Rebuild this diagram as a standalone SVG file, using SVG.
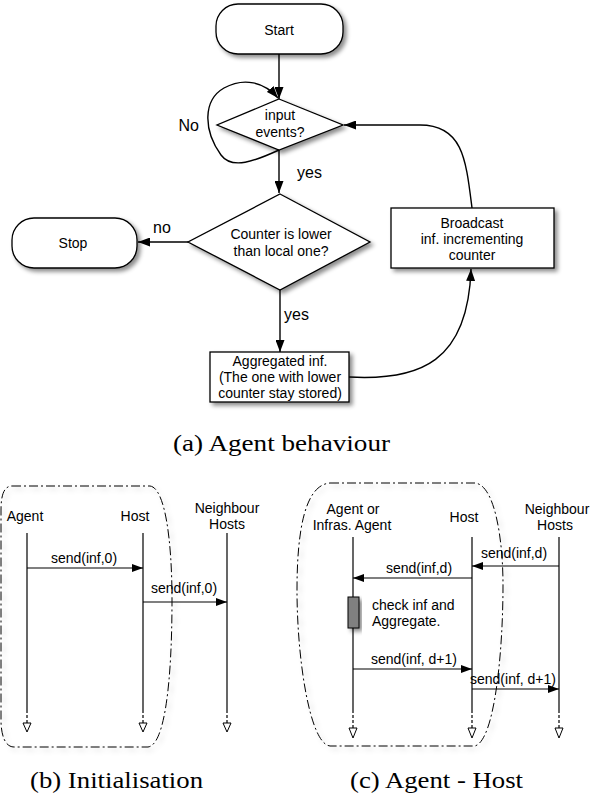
<svg xmlns="http://www.w3.org/2000/svg" width="590" height="802" viewBox="0 0 590 802">
  <defs>
    <filter id="shadow" x="-20%" y="-20%" width="140%" height="150%">
      <feDropShadow dx="3" dy="3" stdDeviation="2.2" flood-color="#000" flood-opacity="0.45"/>
    </filter>
    <filter id="softShadow" x="-10%" y="-10%" width="125%" height="125%">
      <feDropShadow dx="3" dy="3" stdDeviation="2.5" flood-color="#000" flood-opacity="0.22"/>
    </filter>
    <marker id="arrow" viewBox="0 0 12 9" refX="12" refY="4.5" markerWidth="12" markerHeight="9" markerUnits="userSpaceOnUse" orient="auto">
      <path d="M0,0 L12,4.5 L0,9 z" fill="#000"/>
    </marker>
    <marker id="msgArrow" viewBox="0 0 11 8" refX="11" refY="4" markerWidth="11" markerHeight="8" markerUnits="userSpaceOnUse" orient="auto">
      <path d="M0,0 L11,4 L0,8 z" fill="#000"/>
    </marker>
  </defs>
  <style>
    .shape { fill: #fff; stroke: #000; stroke-width: 1.3; }
    .edge { fill: none; stroke: #000; stroke-width: 1.4; }
    .txt { font-family: "Liberation Sans", Arial, sans-serif; font-size: 14px; fill: #000; text-anchor: middle; }
    .note { font-family: "Liberation Sans", Arial, sans-serif; font-size: 14px; fill: #000; text-anchor: start; }
    .lbl { font-family: "Liberation Sans", Arial, sans-serif; font-size: 16px; fill: #000; }
    .cap { font-family: "Liberation Serif", "Times New Roman", serif; font-size: 24px; fill: #000; }
    .frame { fill: none; stroke: #000; stroke-width: 1; stroke-dasharray: 9 3 2 3; }
    .life { fill: none; stroke: #000; stroke-width: 1.2; }
    .lifeEnd { fill: none; stroke: #000; stroke-width: 1.2; stroke-dasharray: 3 2; }
    .tri { fill: #fff; stroke: #000; stroke-width: 1; }
    .msg { fill: none; stroke: #000; stroke-width: 1.2; marker-end: url(#msgArrow); }
  </style>

  <!-- (a) flowchart -->
  <g id="start">
    <rect class="shape" x="216" y="4" width="127" height="50" rx="22" ry="22" filter="url(#shadow)"/>
    <text class="txt" x="279" y="35">Start</text>
  </g>

  <g id="input-events">
    <polygon class="shape" points="279,99 343,125 279,150 217,125" filter="url(#shadow)"/>
    <text class="txt" x="280" y="120">input</text>
    <text class="txt" x="280" y="137">events?</text>
  </g>

  <g id="counter-check">
    <polygon class="shape" points="280,194 370,242 280,290 188,242" filter="url(#shadow)"/>
    <text class="txt" x="281" y="239">Counter is lower</text>
    <text class="txt" x="281" y="256">than local one?</text>
  </g>

  <g id="stop">
    <rect class="shape" x="12" y="218" width="125" height="50" rx="22" ry="22" filter="url(#shadow)"/>
    <text class="txt" x="73" y="248">Stop</text>
  </g>

  <g id="aggregated">
    <rect class="shape" x="210" y="352" width="139" height="50" filter="url(#shadow)"/>
    <text class="txt" x="280" y="366">Aggregated inf.</text>
    <text class="txt" x="280" y="382">(The one with lower</text>
    <text class="txt" x="280" y="398">counter stay stored)</text>
  </g>

  <g id="broadcast">
    <rect class="shape" x="391" y="208" width="163" height="60" filter="url(#shadow)"/>
    <text class="txt" x="472" y="228">Broadcast</text>
    <text class="txt" x="472" y="244">inf. incrementing</text>
    <text class="txt" x="472" y="260">counter</text>
  </g>

  <g id="flow-connectors">
    <path class="edge" d="M279,54 L279,99" marker-end="url(#arrow)"/>
    <path class="edge" d="M279,150 C255,161 232,170 221,155 C203,130 203,100 224,88 C244,77 264,82 278,98" marker-end="url(#arrow)"/>
    <path class="edge" d="M279,150 L279,193" marker-end="url(#arrow)"/>
    <path class="edge" d="M188,242 L138,242" marker-end="url(#arrow)"/>
    <path class="edge" d="M280,290 L280,352" marker-end="url(#arrow)"/>
    <path class="edge" d="M349,377 C420,381 468,362 471,269" marker-end="url(#arrow)"/>
    <path class="edge" d="M472,208 C466,160 463,125 420,125 L344,125" marker-end="url(#arrow)"/>
    <text class="lbl" x="199" y="131" text-anchor="end">No</text>
    <text class="lbl" x="297" y="178">yes</text>
    <text class="lbl" x="153" y="233">no</text>
    <text class="lbl" x="284" y="320">yes</text>
  </g>

  <text class="cap" x="173" y="451" textLength="217" lengthAdjust="spacingAndGlyphs">(a) Agent behaviour</text>

  <!-- (b) initialisation sequence -->
  <g id="init-frame">
    <path class="frame" filter="url(#softShadow)" d="M12,486 L150,486 C165,488 172,540 172,600 C172,680 165,745 148,747 L14,747 C5,747 1,735 1,720 L1,510 C1,495 4,486 12,486 Z"/>
  </g>
  <g id="init-agent">
    <text class="txt" x="25" y="521">Agent</text>
    <path class="life" d="M27,533 L27,710"/>
    <path class="lifeEnd" d="M27,710 L27,723"/>
    <polygon class="tri" points="23,723 31,723 27,732"/>
  </g>
  <g id="init-host">
    <text class="txt" x="135" y="521">Host</text>
    <path class="life" d="M143,533 L143,710"/>
    <path class="lifeEnd" d="M143,710 L143,723"/>
    <polygon class="tri" points="139,723 147,723 143,732"/>
  </g>
  <g id="init-neighbours">
    <text class="txt" x="227" y="513">Neighbour</text>
    <text class="txt" x="227" y="529">Hosts</text>
    <path class="life" d="M227,533 L227,710"/>
    <path class="lifeEnd" d="M227,710 L227,723"/>
    <polygon class="tri" points="223,723 231,723 227,732"/>
  </g>
  <g id="init-messages">
    <path class="msg" d="M27,568 L143,568"/>
    <text class="txt" x="84" y="563">send(inf,0)</text>
    <path class="msg" d="M143,602 L227,602"/>
    <text class="txt" x="184" y="593">send(inf,0)</text>
  </g>

  <text class="cap" x="30" y="788" textLength="173" lengthAdjust="spacingAndGlyphs">(b) Initialisation</text>

  <!-- (c) agent - host sequence -->
  <g id="ah-frame">
    <path class="frame" filter="url(#softShadow)" d="M330,483 L475,483 C495,485 503,540 503,585 C503,650 495,740 475,746 L330,746 C310,744 297,660 297,590 C297,530 305,485 330,483 Z"/>
  </g>
  <g id="ah-agent">
    <text class="txt" x="353" y="514">Agent or</text>
    <text class="txt" x="352" y="530">Infras. Agent</text>
    <path class="life" d="M353,537 L353,710"/>
    <path class="lifeEnd" d="M353,710 L353,728"/>
    <polygon class="tri" points="349,728 357,728 353,738"/>
    <rect x="348" y="597" width="11" height="31" fill="#808080" stroke="#000" stroke-width="1" filter="url(#shadow)"/>
  </g>
  <g id="ah-host">
    <text class="txt" x="464" y="522">Host</text>
    <path class="life" d="M472,537 L472,710"/>
    <path class="lifeEnd" d="M472,710 L472,728"/>
    <polygon class="tri" points="468,728 476,728 472,738"/>
  </g>
  <g id="ah-neighbours">
    <text class="txt" x="557" y="514">Neighbour</text>
    <text class="txt" x="555" y="530">Hosts</text>
    <path class="life" d="M559,537 L559,710"/>
    <path class="lifeEnd" d="M559,710 L559,728"/>
    <polygon class="tri" points="555,728 563,728 559,738"/>
  </g>
  <g id="ah-messages">
    <path class="msg" d="M559,566 L472,566"/>
    <text class="txt" x="514" y="558">send(inf,d)</text>
    <path class="msg" d="M472,578 L353,578"/>
    <text class="txt" x="419" y="573">send(inf,d)</text>
    <text class="note" x="372" y="610">check inf and</text>
    <text class="note" x="372" y="626">Aggregate.</text>
    <path class="msg" d="M353,669 L472,669"/>
    <text class="txt" x="414" y="664">send(inf, d+1)</text>
    <path class="msg" d="M472,689 L559,689"/>
    <text class="txt" x="513" y="684">send(inf, d+1)</text>
  </g>

  <text class="cap" x="350" y="788" textLength="173" lengthAdjust="spacingAndGlyphs">(c) Agent - Host</text>
</svg>
